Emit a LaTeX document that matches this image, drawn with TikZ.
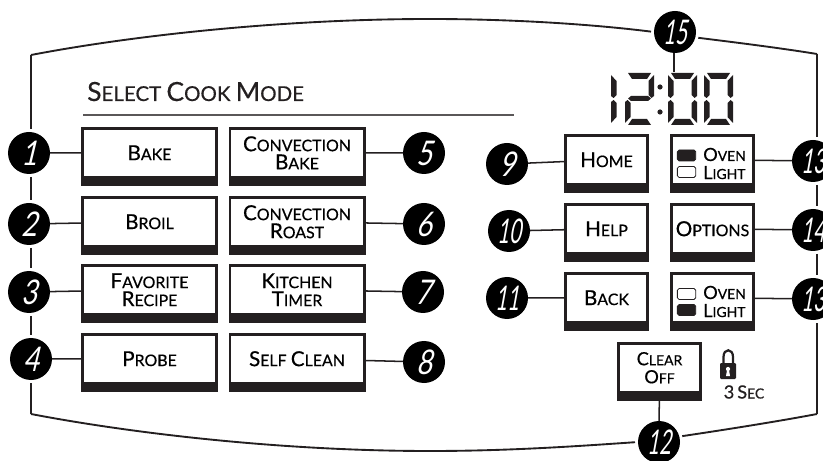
\documentclass[tikz,border=0pt]{standalone}
\usepackage{fontspec}
\usepackage{graphicx}
\setmainfont{Lato}[FakeBold=0.5]
\newfontfamily\numfont{Lato}[FakeSlant=0.3]

\definecolor{ink}{HTML}{231F20}

% two-size capitals
\newcommand{\capbig}[2]{{\fontsize{17.6}{18}\selectfont #1\fontsize{13.6}{14}\selectfont #2}}
\newcommand{\capmid}[2]{{\fontsize{15.5}{16}\selectfont #1\fontsize{11.9}{12}\selectfont #2}}
\newcommand{\numtxt}[1]{\scalebox{.8}[1]{\numfont\fontsize{29}{29}\selectfont #1}}
\newcommand{\numpair}[1]{\scalebox{.6}[1]{\numfont\fontsize{29}{29}\selectfont #1}}

% display segments, one digit is 29 wide
\newcommand{\segA}{(3,73) -- (26,73) -- (22,79) -- (7,79) -- cycle}
\newcommand{\segB}{(29,75) -- (29,96) -- (26.5,98) -- (23.5,95) -- (23.5,81) -- cycle}
\newcommand{\segC}{(26.5,100) -- (29,102) -- (29,123) -- (23.5,117) -- (23.5,103) -- cycle}
\newcommand{\segD}{(3,125) -- (26,125) -- (22,119) -- (7,119) -- cycle}
\newcommand{\segE}{(0,123) -- (0,102) -- (2.5,100) -- (5.5,103) -- (5.5,117) -- cycle}
\newcommand{\segF}{(0,75) -- (5.5,81) -- (5.5,95) -- (2.5,98) -- (0,96) -- cycle}
\newcommand{\segG}{(3,98.5) -- (6,96) -- (23,96) -- (26,98.5) -- (23,101) -- (6,101) -- cycle}

\tikzset{
	barbox/.style={fill=ink, inner sep=0, outer sep=0, minimum height=0.225cm, label distance=0},
	btnBase/.style={draw=ink, fill=white, line width=0.08cm, inner sep=0, align=center,
		minimum height=1.465cm, font=\fontsize{14}{15.4}\selectfont},
	wideBtn/.style={btnBase, minimum width=4.03cm,
		label={[barbox, minimum width=4.11cm]below:}},
	keyBtn/.style={btnBase, minimum width=2.47cm,
		label={[barbox, minimum width=2.55cm]below:}},
	numDot/.style={circle, fill=black, text=white, inner sep=0, outer sep=0, minimum size=1.26cm},
	frameLine/.style={draw=ink, line width=1.6pt, shorten <=0.09cm, shorten >=0.09cm},
	leadLine/.style={draw=ink, line width=1.3pt},
	swatch/.style={draw=ink, line width=0.7pt, rounded corners=1.5pt, inner sep=0,
		minimum width=0.55cm, minimum height=0.33cm},
	segFill/.style={fill=ink}
}

\begin{document}
\begin{tikzpicture}[x=0.03cm, y=-0.03cm]
	\useasboundingbox (0,0) rectangle (823,461);

	% Heading
	\node[anchor=base west, inner sep=0, text=ink, font=\fontsize{22.5}{23}\selectfont] (heading) at (87,101)
		{S\fontsize{17.5}{18}\selectfont ELECT \fontsize{22.5}{23}\selectfont C\fontsize{17.5}{18}\selectfont OOK \fontsize{22.5}{23}\selectfont M\fontsize{17.5}{18}\selectfont ODE};
	\coordinate (ruleL) at (83,115);
	\coordinate (ruleR) at (514,115);
	\draw[draw=ink!75, line width=0.9pt] (ruleL) -- (ruleR);

	% Cook mode buttons
	\node[wideBtn] (bake) at (149.5,152.75) {\capbig{B}{AKE}};
	\node[wideBtn] (broil) at (149.5,221.75) {\capbig{B}{ROIL}};
	\node[wideBtn] (favorite) at (149.5,289.75) {\capbig{F}{AVORITE}\\\capbig{R}{ECIPE}};
	\node[wideBtn] (probe) at (149.5,358.75) {\capbig{P}{ROBE}};
	\node[wideBtn] (convbake) at (297,152.75) {\capbig{C}{ONVECTION}\\\capbig{B}{AKE}};
	\node[wideBtn] (convroast) at (297,221.75) {\capbig{C}{ONVECTION}\\\capbig{R}{OAST}};
	\node[wideBtn] (timer) at (297,289.75) {\capbig{K}{ITCHEN}\\\capbig{T}{IMER}};
	\node[wideBtn] (selfclean) at (297,358.75) {\capbig{S}{ELF} \capbig{C}{LEAN}};

	% Right hand buttons
	\node[keyBtn] (home) at (606.5,159.75) {\capbig{H}{OME}};
	\node[keyBtn] (help) at (606.5,228.75) {\capbig{H}{ELP}};
	\node[keyBtn] (back) at (606.5,297.75) {\capbig{B}{ACK}};
	\node[keyBtn] (lightup) at (712.5,159.75) {};
	\node[keyBtn] (options) at (712.5,228.75) {\capbig{O}{PTIONS}};
	\node[keyBtn] (lightdown) at (712.5,297.75) {};
	\node[keyBtn] (clear) at (659.5,367.75) {\capmid{C}{LEAR}\\\capmid{O}{FF}};

	% Oven light keys
	\node[swatch, fill=ink] (swatchA) at (686.5,155.5) {};
	\node[swatch, fill=white] (swatchB) at (686.5,172) {};
	\node[anchor=west, inner sep=0, align=left, font=\fontsize{14}{15.4}\selectfont] (lightA) at (703,163.5) {\capmid{O}{VEN}\\\capmid{L}{IGHT}};
	\node[swatch, fill=white] (swatchC) at (686.5,294) {};
	\node[swatch, fill=ink] (swatchD) at (686.5,310) {};
	\node[anchor=west, inner sep=0, align=left, font=\fontsize{14}{15.4}\selectfont] (lightB) at (703,301.5) {\capmid{O}{VEN}\\\capmid{L}{IGHT}};

	% Numbers
	\node[numDot] (n1) at (29,153) {\numtxt{1}};
	\node[numDot] (n2) at (29,224) {\numtxt{2}};
	\node[numDot] (n3) at (29,292) {\numtxt{3}};
	\node[numDot] (n4) at (31,359) {\numtxt{4}};
	\node[numDot] (n5) at (424,153) {\numtxt{5}};
	\node[numDot] (n6) at (424,224) {\numtxt{6}};
	\node[numDot] (n7) at (423,292) {\numtxt{7}};
	\node[numDot] (n8) at (424,362) {\numtxt{8}};
	\node[numDot] (n9) at (507,164) {\numtxt{9}};
	\node[numDot] (n10) at (509,231) {\numpair{10}};
	\node[numDot] (n11) at (507,298) {\numpair{11}};
	\node[numDot] (n12) at (659,442) {\numpair{12}};
	\node[numDot] (n13a) at (813,161) {\numpair{13}};
	\node[numDot] (n14) at (813,230) {\numpair{14}};
	\node[numDot] (n13b) at (813,299) {\numpair{13}};
	\node[numDot] (n15) at (675,32) {\numpair{15}};

	% Leaders
	\draw[leadLine] (n1) -- (bake);
	\draw[leadLine] (n2) -- (broil);
	\draw[leadLine] (n3) -- (favorite);
	\draw[leadLine] (n4) -- (probe);
	\draw[leadLine] (convbake) -- (n5);
	\draw[leadLine] (convroast) -- (n6);
	\draw[leadLine] (timer) -- (n7);
	\draw[leadLine] (selfclean) -- (n8);
	\draw[leadLine] (n9) -- (home);
	\draw[leadLine] (n10) -- (help);
	\draw[leadLine] (n11) -- (back);
	\draw[leadLine] (lightup) -- (n13a);
	\draw[leadLine] (options) -- (n14);
	\draw[leadLine] (lightdown) -- (n13b);
	\draw[leadLine] (clear.south) -- (n12.north);
	\coordinate (dispTop) at (674,72);
	\draw[leadLine] (n15.south -| dispTop) -- (dispTop);

	% Panel outline
	\coordinate (cornerNW) at (31,55);
	\coordinate (cornerNE) at (817,54);
	\coordinate (cornerSW) at (31,414);
	\coordinate (cornerSE) at (817,414);
	\draw[frameLine, shorten <=0] (cornerNW) .. controls (130,36) and (280,19) .. (430,19) .. controls (510,19) and (590,24) .. (n15.west);
	\draw[frameLine, shorten >=0] (n15.-15) .. controls (740,43) and (780,48) .. (cornerNE);
	\draw[frameLine, shorten <=0] (cornerNW) -- (cornerNW |- n1.north);
	\draw[frameLine] (cornerNW |- n1.south) -- (cornerNW |- n2.north);
	\draw[frameLine] (cornerNW |- n2.south) -- (cornerNW |- n3.north);
	\draw[frameLine] (cornerNW |- n3.south) -- (cornerNW |- n4.north);
	\draw[frameLine, shorten >=0] (cornerNW |- n4.south) -- (cornerSW);
	\draw[frameLine, shorten <=0] (cornerNE) -- (cornerNE |- n13a.north);
	\draw[frameLine] (cornerNE |- n13a.south) -- (cornerNE |- n14.north);
	\draw[frameLine] (cornerNE |- n14.south) -- (cornerNE |- n13b.north);
	\draw[frameLine, shorten >=0] (cornerNE |- n13b.south) -- (cornerSE);
	\draw[frameLine, shorten <=0] (cornerSW) .. controls (130,433) and (280,451) .. (430,451) .. controls (510,451) and (580,446) .. (n12.west);
	\draw[frameLine, shorten >=0] (n12.15) .. controls (730,429) and (780,421) .. (cornerSE);

	% Clock
	\begin{scope}[shift={(611,0)}]
		\fill[segFill] \segE \segF;
	\end{scope}
	\begin{scope}[shift={(625,0)}]
		\fill[segFill] \segA \segB \segG \segE \segD;
	\end{scope}
	\fill[segFill] (660,87) circle (2.6) (660,112) circle (2.6);
	\foreach \dx in {668,704} {
		\begin{scope}[shift={(\dx,0)}]
			\fill[segFill] \segA \segB \segC \segD \segE \segF;
		\end{scope}
	}

	% Lock
	\draw[draw=ink, line width=1.9pt] (723.5,366) -- (723.5,357) .. controls (723.5,348) and (733,348) .. (733,357) -- (733,366);
	\fill[segFill, rounded corners=1pt] (720,363) rectangle (736,379);
	\fill[white] (728,369) circle (2.1);
	\fill[white] (727,370) -- (729,370) -- (730,376) -- (726,376) -- cycle;
	\node[inner sep=0, text=ink] (threesec) at (744,392) {\capmid{3}{} \capmid{S}{EC}};
\end{tikzpicture}
\end{document}
